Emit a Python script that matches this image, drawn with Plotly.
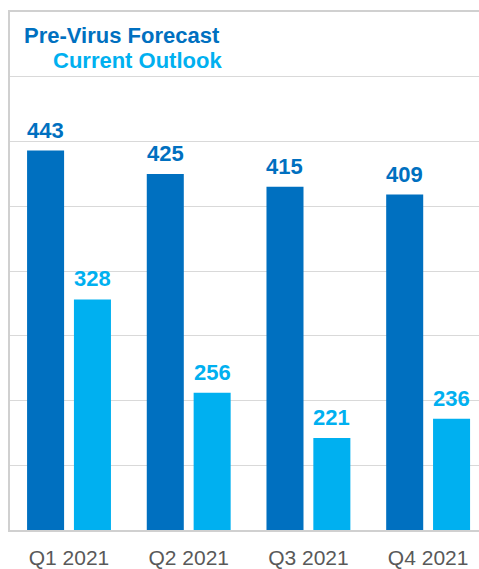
import plotly.graph_objects as go

categories = ["Q1 2021", "Q2 2021", "Q3 2021", "Q4 2021"]
pre_virus = [443, 425, 415, 409]
current = [328, 256, 221, 236]
series_names = ["Pre-Virus Forecast", "Current Outlook"]
colors = ["#0070C0", "#00B0F0"]

W, H = 479, 569
L, R, T, B = 10, 0, 12, 37

fig = go.Figure()
for name, vals, col in zip(series_names, [pre_virus, current], colors):
    fig.add_trace(go.Bar(x=categories, y=vals, name=name, marker_color=col,
                         marker_line_width=0, showlegend=False))

annotations = []
for vals, col, shift in zip([pre_virus, current], colors, [-23.5, 23.5]):
    for c, v in zip(categories, vals):
        annotations.append(dict(x=c, y=v, xref="x", yref="y", text=f"<b>{v}</b>",
                                showarrow=False, xshift=shift, yanchor="bottom", yshift=6,
                                font=dict(family="Liberation Sans, Arial", size=22, color=col)))

def px_x(p):
    return (p - L) / (W - L - R)

def px_y(p):
    return 1 - (p - T) / (H - T - B)

annotations.append(dict(x=px_x(222), y=px_y(36), xref="paper", yref="paper",
                        text="<b>Pre-Virus Forecast</b>", showarrow=False,
                        xanchor="right", yanchor="middle",
                        font=dict(family="Liberation Sans, Arial", size=22, color=colors[0])))
annotations.append(dict(x=px_x(224), y=px_y(61), xref="paper", yref="paper",
                        text="<b>Current Outlook</b>", showarrow=False,
                        xanchor="right", yanchor="middle",
                        font=dict(family="Liberation Sans, Arial", size=22, color=colors[1])))

fig.update_layout(
    width=W, height=H,
    margin=dict(l=L, r=R, t=T, b=B, pad=0),
    paper_bgcolor="white", plot_bgcolor="white",
    barmode="group", bargap=0.217, bargroupgap=0.21,
    annotations=annotations,
    xaxis=dict(range=[-0.493, 3.425], showgrid=False, showline=True, linecolor="#d0d0d0",
               linewidth=1.5, mirror=True, ticks="", ticklabelstandoff=8,
               tickfont=dict(family="Liberation Sans, Arial", size=21, color="#595959")),
    yaxis=dict(range=[150, 550], tick0=150, dtick=50, showgrid=True, gridcolor="#d9d9d9",
               gridwidth=1, showline=True, linecolor="#d0d0d0", linewidth=1.5,
               showticklabels=False, ticks="", zeroline=False),
)

fig.write_html("out.html")
